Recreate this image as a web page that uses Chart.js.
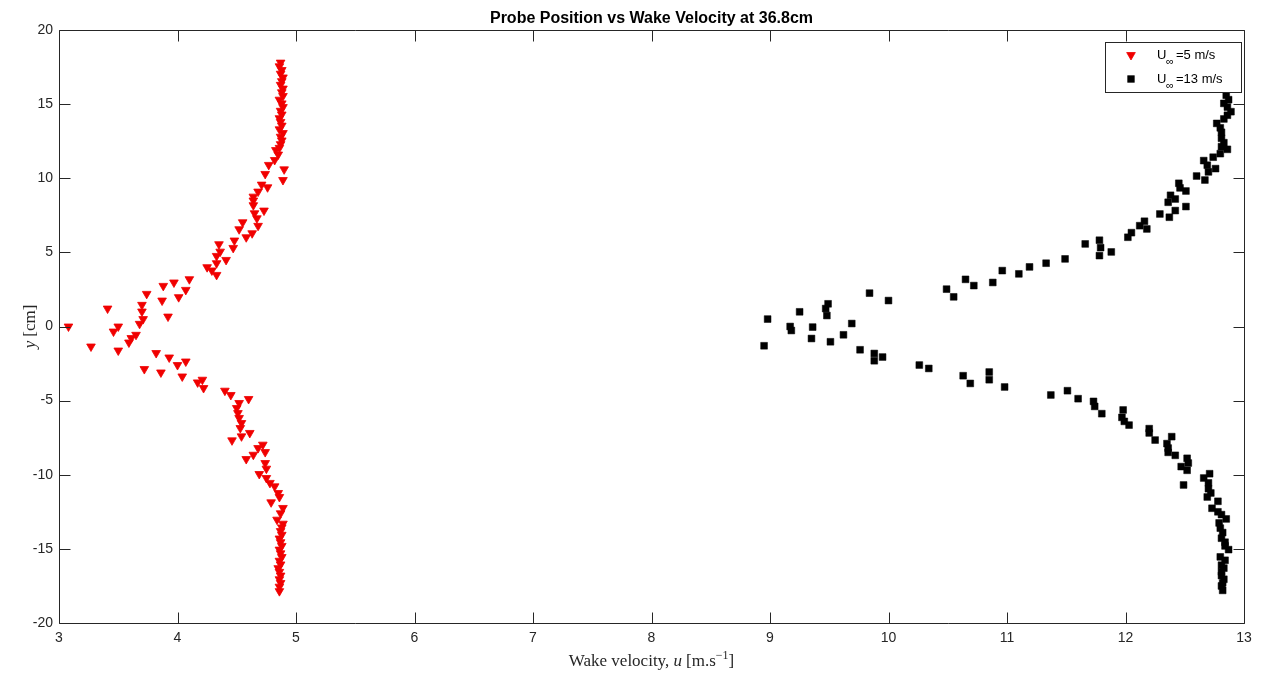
<!DOCTYPE html>
<html>
<head>
<meta charset="utf-8">
<title>Probe Position vs Wake Velocity at 36.8cm</title>
<script src="https://cdn.jsdelivr.net/npm/chart.js@4.4.1/dist/chart.umd.min.js"></script>
<style>
  html, body { margin: 0; padding: 0; background: #ffffff; }
  #wrap { width: 1262px; height: 673px; position: relative; }
</style>
</head>
<body>
<div id="wrap"><canvas id="c" width="1262" height="673"></canvas></div>
<script>
// Wake traverse, free stream 5 m/s: velocity [m/s] and probe position [cm]
const u5 = [
  4.87, 4.86, 4.88, 4.87, 4.89, 4.88, 4.87, 4.89, 4.88, 4.89,
  4.86, 4.88, 4.89, 4.87, 4.88, 4.86, 4.87, 4.88, 4.86, 4.89,
  4.87, 4.88, 4.87, 4.86, 4.83, 4.85, 4.82, 4.77, 4.90, 4.74,
  4.89, 4.71, 4.76, 4.68, 4.64, 4.64, 4.64, 4.73, 4.65, 4.67,
  4.55, 4.68, 4.52, 4.63, 4.58, 4.48, 4.35, 4.47, 4.36, 4.33,
  4.41, 4.33, 4.25, 4.29, 4.33, 4.10, 3.97, 3.88, 4.07, 3.74,
  4.01, 3.87, 3.70, 3.41, 3.70, 3.92, 3.71, 3.68, 3.50, 3.08,
  3.46, 3.65, 3.61, 3.59, 3.27, 3.50, 3.82, 3.93, 4.07, 4.00,
  3.72, 3.86, 4.04, 4.21, 4.17, 4.22, 4.40, 4.45, 4.60, 4.52,
  4.50, 4.51, 4.52, 4.54, 4.53, 4.61, 4.54, 4.46, 4.72, 4.68,
  4.74, 4.64, 4.58, 4.74, 4.75, 4.69, 4.75, 4.78, 4.82, 4.85,
  4.86, 4.79, 4.89, 4.87, 4.84, 4.89, 4.88, 4.87, 4.88, 4.86,
  4.87, 4.88, 4.86, 4.87, 4.88, 4.86, 4.87, 4.85, 4.86, 4.87,
  4.86, 4.87, 4.86, 4.86
];
const y5 = [
  17.80, 17.55, 17.30, 17.05, 16.80, 16.55, 16.30, 16.05, 15.80, 15.55,
  15.30, 15.05, 14.80, 14.55, 14.30, 14.05, 13.80, 13.55, 13.30, 13.05,
  12.80, 12.55, 12.30, 12.05, 11.90, 11.60, 11.23, 10.90, 10.60, 10.29,
  9.88, 9.57, 9.39, 9.10, 8.76, 8.50, 8.18, 7.82, 7.64, 7.30,
  7.03, 6.79, 6.56, 6.29, 6.02, 5.80, 5.55, 5.30, 5.05, 4.76,
  4.49, 4.27, 4.00, 3.78, 3.48, 3.19, 2.97, 2.74, 2.47, 2.20,
  1.98, 1.75, 1.46, 1.21, 1.01, 0.67, 0.50, 0.18, 0.00, 0.00,
  -0.34, -0.56, -0.78, -1.08, -1.35, -1.62, -1.79, -2.09, -2.36, -2.60,
  -2.87, -3.10, -3.37, -3.59, -3.77, -4.15, -4.33, -4.62, -4.89, -5.16,
  -5.50, -5.84, -6.17, -6.51, -6.85, -7.18, -7.41, -7.68, -7.97, -8.20,
  -8.47, -8.65, -8.94, -9.21, -9.59, -9.95, -10.22, -10.55, -10.78, -11.23,
  -11.50, -11.86, -12.24, -12.60, -13.03, -13.30, -13.55, -13.80, -14.05, -14.30,
  -14.55, -14.80, -15.05, -15.30, -15.55, -15.80, -16.05, -16.30, -16.55, -16.80,
  -17.05, -17.30, -17.55, -17.85
];

// Wake traverse, free stream 13 m/s
const u13 = [
  12.85, 12.87, 12.83, 12.86, 12.89, 12.86, 12.83, 12.77, 12.80, 12.81,
  12.81, 12.83, 12.81, 12.86, 12.80, 12.74, 12.66, 12.69, 12.76, 12.70,
  12.60, 12.67, 12.45, 12.46, 12.51, 12.38, 12.42, 12.36, 12.51, 12.42,
  12.29, 12.37, 12.16, 12.12, 12.18, 12.05, 12.02, 11.78, 11.66, 11.79,
  11.88, 11.78, 11.49, 11.33, 11.19, 10.96, 11.10, 10.65, 10.88, 10.72,
  10.49, 9.84, 10.55, 10.00, 9.49, 9.47, 9.25, 9.48, 8.98, 9.69,
  9.17, 9.36, 9.18, 9.62, 9.35, 9.51, 8.95, 9.76, 9.88, 9.95,
  9.88, 10.26, 10.34, 10.85, 10.63, 10.85, 10.69, 10.98, 11.51, 11.37,
  11.60, 11.73, 11.74, 11.98, 11.80, 11.97, 11.99, 12.03, 12.20, 12.20,
  12.39, 12.25, 12.35, 12.36, 12.36, 12.42, 12.52, 12.53, 12.47, 12.52,
  12.71, 12.66, 12.70, 12.49, 12.70, 12.72, 12.69, 12.78, 12.73, 12.78,
  12.81, 12.85, 12.79, 12.80, 12.82, 12.81, 12.84, 12.84, 12.87, 12.80,
  12.84, 12.81, 12.83, 12.81, 12.81, 12.83, 12.82, 12.81, 12.82
];
const y13 = [
  15.60, 15.30, 15.05, 14.80, 14.49, 14.25, 14.00, 13.70, 13.40, 13.10,
  12.70, 12.40, 12.13, 11.95, 11.66, 11.42, 11.19, 10.88, 10.65, 10.43,
  10.15, 9.88, 9.66, 9.35, 9.14, 8.85, 8.60, 8.38, 8.09, 7.82,
  7.59, 7.37, 7.10, 6.80, 6.58, 6.33, 6.02, 5.82, 5.57, 5.32,
  5.03, 4.78, 4.56, 4.27, 4.02, 3.77, 3.55, 3.18, 2.97, 2.76,
  2.52, 2.25, 2.00, 1.75, 1.53, 1.21, 0.99, 0.74, 0.50, 0.20,
  0.00, -0.04, -0.27, -0.56, -0.81, -1.03, -1.30, -1.57, -1.82, -2.06,
  -2.31, -2.60, -2.83, -3.07, -3.32, -3.59, -3.84, -4.08, -4.33, -4.62,
  -4.87, -5.05, -5.39, -5.63, -5.88, -6.13, -6.40, -6.65, -6.89, -7.18,
  -7.43, -7.66, -7.90, -8.20, -8.49, -8.69, -8.89, -9.21, -9.45, -9.70,
  -9.93, -10.22, -10.55, -10.69, -10.94, -11.23, -11.50, -11.79, -12.26, -12.50,
  -12.69, -12.98, -13.25, -13.60, -13.90, -14.28, -14.55, -14.80, -15.05, -15.54,
  -15.77, -16.10, -16.30, -16.55, -16.80, -17.05, -17.30, -17.50, -17.80
];

// Axis ticks
const xTicks = [3, 4, 5, 6, 7, 8, 9, 10, 11, 12, 13];
const yTicks = [-20, -15, -10, -5, 0, 5, 10, 15, 20];

const INK = '#262626';
const SANS = '"Liberation Sans", Arial, Helvetica, sans-serif';
const SERIF = '"Liberation Serif", "Times New Roman", "DejaVu Serif", serif';

const toPoints = (xs, ys) => xs.map((x, i) => ({ x: x, y: ys[i] }));

// Draws a run of text pieces with their own font and baseline offset.
function drawRich(ctx, parts, cx, cy, angle) {
  ctx.save();
  ctx.translate(cx, cy);
  ctx.rotate(angle || 0);
  let total = 0;
  parts.forEach(p => { ctx.font = p.font; total += ctx.measureText(p.text).width + (p.gap || 0); });
  let x = -total / 2;
  ctx.textBaseline = 'alphabetic';
  ctx.textAlign = 'left';
  ctx.fillStyle = INK;
  parts.forEach(p => {
    ctx.font = p.font;
    ctx.fillText(p.text, x, p.dy || 0);
    x += ctx.measureText(p.text).width + (p.gap || 0);
  });
  ctx.restore();
}

const frame = {
  id: 'frame',
  afterDraw(chart) {
    const ctx = chart.ctx;
    const a = chart.chartArea;
    const xs = chart.scales.x, ys = chart.scales.y;
    const L = Math.round(a.left) + 0.5, R = Math.round(a.right) + 0.5;
    const T = Math.round(a.top) + 0.5, B = Math.round(a.bottom) + 0.5;
    const tick = 11;
    ctx.save();
    ctx.strokeStyle = INK;
    ctx.lineWidth = 1;
    ctx.beginPath();
    ctx.rect(L, T, R - L, B - T);
    xTicks.forEach(v => {
      const px = Math.round(xs.getPixelForValue(v)) + 0.5;
      ctx.moveTo(px, B); ctx.lineTo(px, B - tick);
      ctx.moveTo(px, T); ctx.lineTo(px, T + tick);
    });
    yTicks.forEach(v => {
      const py = Math.round(ys.getPixelForValue(v)) + 0.5;
      ctx.moveTo(L, py); ctx.lineTo(L + tick, py);
      ctx.moveTo(R, py); ctx.lineTo(R - tick, py);
    });
    ctx.stroke();

    // title
    ctx.fillStyle = '#000';
    ctx.font = 'bold 16px ' + SANS;
    ctx.textAlign = 'center';
    ctx.textBaseline = 'alphabetic';
    ctx.fillText('Probe Position vs Wake Velocity at 36.8cm', (a.left + a.right) / 2, 23);

    // axis titles
    const f = '17px ' + SERIF, fi = 'italic 17px ' + SERIF, fs = '12px ' + SERIF;
    drawRich(ctx, [
      { text: 'Wake velocity, ', font: f },
      { text: 'u', font: fi, gap: 4 },
      { text: '[m.s', font: f },
      { text: '\u22121', font: fs, dy: -7 },
      { text: ']', font: f }
    ], (a.left + a.right) / 2, 666, 0);
    drawRich(ctx, [
      { text: 'y', font: fi, gap: 4 },
      { text: '[cm]', font: f }
    ], 35, (a.top + a.bottom) / 2, -Math.PI / 2);

    // legend
    const bx = 1105.5, by = 42.5, bw = 136, bh = 50;
    ctx.fillStyle = '#fff';
    ctx.fillRect(bx, by, bw, bh);
    ctx.strokeStyle = INK;
    ctx.strokeRect(bx, by, bw, bh);
    const rows = [
      { ds: 0, y: 55, label: '=5 m/s' },
      { ds: 1, y: 79, label: '=13 m/s' }
    ];
    rows.forEach(r => {
      const o = chart.data.datasets[r.ds];
      ctx.fillStyle = o.backgroundColor;
      ctx.strokeStyle = o.borderColor;
      ctx.lineWidth = o.borderWidth;
      Chart.helpers.drawPoint(ctx, {
        pointStyle: o.pointStyle, rotation: o.rotation || 0, radius: o.pointRadius,
        borderWidth: o.borderWidth
      }, 1131, r.y);
      ctx.fillStyle = '#000';
      ctx.textAlign = 'left';
      ctx.font = '13px ' + SANS;
      ctx.fillText('U', 1157, r.y + 4);
      ctx.font = '11px ' + SANS;
      ctx.fillText('\u221E', 1166, r.y + 10);
      ctx.font = '13px ' + SANS;
      ctx.fillText(r.label, 1176, r.y + 4);
    });
    ctx.restore();
  }
};

new Chart(document.getElementById('c'), {
  type: 'scatter',
  data: {
    datasets: [
      {
        label: 'U\u221E=5 m/s',
        data: toPoints(u5, y5),
        pointStyle: 'triangle',
        rotation: 180,
        pointRadius: 5,
        backgroundColor: '#f00000',
        borderColor: '#f00000',
        borderWidth: 0.8
      },
      {
        label: 'U\u221E=13 m/s',
        data: toPoints(u13, y13),
        pointStyle: 'rect',
        pointRadius: 4.8,
        backgroundColor: '#000000',
        borderColor: '#000000',
        borderWidth: 0.5
      }
    ]
  },
  options: {
    responsive: false,
    animation: false,
    events: [],
    devicePixelRatio: 1,
    layout: { padding: { top: 30, right: 18, left: 0, bottom: 0 } },
    plugins: { legend: { display: false }, tooltip: { enabled: false }, title: { display: false } },
    scales: {
      x: {
        type: 'linear', position: 'bottom', min: 3, max: 13,
        afterBuildTicks: s => { s.ticks = xTicks.map(v => ({ value: v })); },
        afterFit: s => { s.height = 50; },
        grid: { display: false, drawTicks: false },
        border: { display: false },
        ticks: { padding: 7, color: INK, font: { family: SANS, size: 14 }, maxRotation: 0 }
      },
      y: {
        type: 'linear', position: 'left', min: -20, max: 20,
        afterBuildTicks: s => { s.ticks = yTicks.map(v => ({ value: v })); },
        afterFit: s => { s.width = 59; },
        grid: { display: false, drawTicks: false },
        border: { display: false },
        ticks: { padding: 6, color: INK, font: { family: SANS, size: 14 } }
      }
    }
  },
  plugins: [frame]
});
</script>
</body>
</html>
